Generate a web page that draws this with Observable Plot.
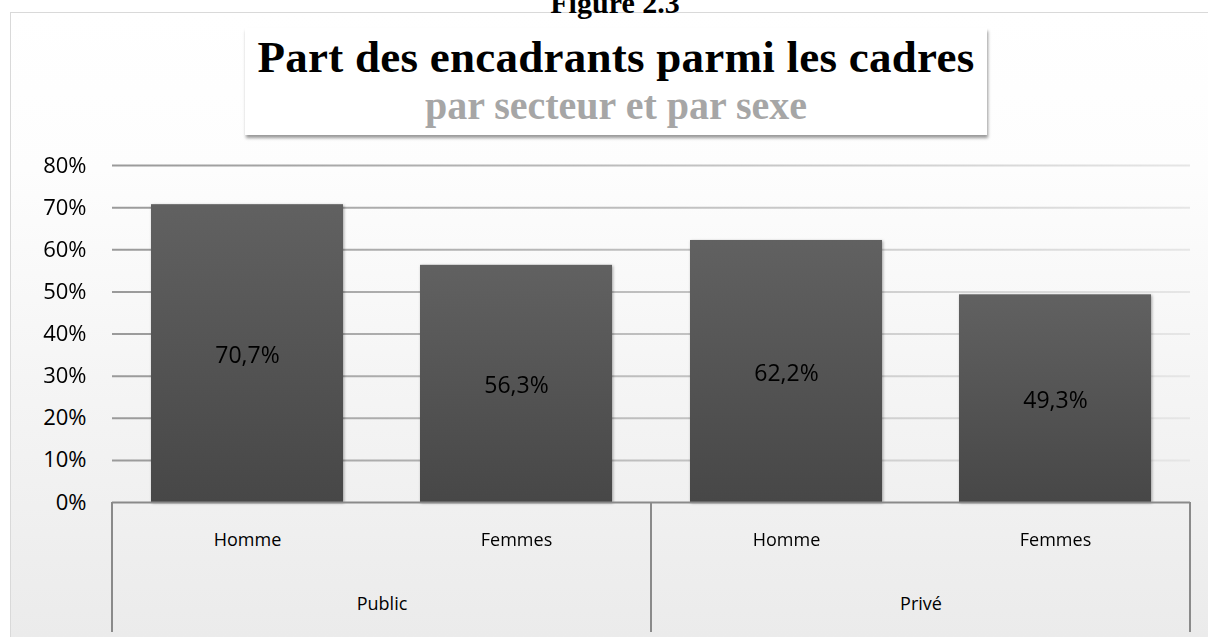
<!DOCTYPE html>
<html>
<head>
<meta charset="utf-8">
<script src="https://cdn.jsdelivr.net/npm/d3@7"></script>
<script src="https://cdn.jsdelivr.net/npm/@observablehq/plot@0.6"></script>
<style>
  body { margin: 0; background: #fff; }
  #wrap { position: relative; width: 1208px; height: 637px; overflow: hidden; background: #fff; }
  #frame { position: absolute; left: 10px; top: 12px; width: 1198px; height: 625px; box-sizing: border-box;
           border-left: 1px solid #d9d9d9; border-top: 1px solid #d9d9d9;
           background: linear-gradient(#ffffff, #fdfdfd 25%, #ebebeb); }
  #fig { position: absolute; left: 0; top: -12px; width: 1230px; text-align: center;
         font: bold 30px/30px "Liberation Serif", serif; color: #000; }
  #titlebox { position: absolute; left: 245px; top: 28px; width: 742px; height: 107px; background: #fff;
              box-shadow: 1px 3px 3px rgba(0,0,0,0.4); }
  #title { position: absolute; left: 0; top: 7px; width: 100%; text-align: center;
           font: bold 45px/45px "Liberation Serif", serif; letter-spacing: 0.25px; color: #000; white-space: nowrap; }
  #subtitle { position: absolute; left: 0; top: 58px; width: 100%; text-align: center;
              font: bold 40px/40px "Liberation Serif", serif; color: #a6a6a6; white-space: nowrap; }
  #chart { position: absolute; left: 0; top: 0; }
</style>
</head>
<body>
<div id="wrap">
  <div id="frame"></div>
  <div id="fig">Figure 2.3</div>
  <div id="chart"></div>
  <div id="titlebox">
    <div id="title">Part des encadrants parmi les cadres</div>
    <div id="subtitle">par secteur et par sexe</div>
  </div>
</div>
<script>
// ---- data ----
const sectors = ["Public", "Privé"];
const sexes = ["Homme", "Femmes"];
const values = [0.707, 0.563, 0.622, 0.493];
const valueLabels = ["70,7%", "56,3%", "62,2%", "49,3%"];
const yTicks = [0, 0.1, 0.2, 0.3, 0.4, 0.5, 0.6, 0.7, 0.8];
const yTickLabels = ["0%", "10%", "20%", "30%", "40%", "50%", "60%", "70%", "80%"];

const data = values.map((v, i) => ({
  sector: sectors[Math.floor(i / 2)],
  sex: sexes[i % 2],
  value: v,
  label: valueLabels[i]
}));
const grid = sectors.flatMap(s => yTicks.filter(t => t > 0).map(t => ({sector: s, v: t})));

const plot = Plot.plot({
  width: 1208,
  height: 637,
  marginLeft: 111,
  marginRight: 18,
  marginTop: 165,
  marginBottom: 135,
  style: {background: "transparent", overflow: "visible", fontFamily: "'Open Sans', sans-serif", color: "#000"},
  fx: {domain: sectors, padding: 0},
  x: {domain: sexes, paddingInner: 0.285, paddingOuter: 0.1425},
  y: {domain: [0, 0.8]},
  marks: [
    Plot.ruleY(grid.filter(d => d.sector === sectors[0]), {fx: "sector", y: "v", stroke: "url(#gridA)", strokeWidth: 2}),
    Plot.ruleY(grid.filter(d => d.sector === sectors[1]), {fx: "sector", y: "v", stroke: "url(#gridB)", strokeWidth: 2}),
    Plot.barY(data, {fx: "sector", x: "sex", y: "value", fill: "url(#barGrad)"}),
    Plot.text(data, {fx: "sector", x: "sex", y: d => d.value / 2, text: "label", fontSize: 23, fill: "#000", dy: 2}),
    Plot.ruleY([0], {stroke: "#8a8a8a", strokeWidth: 2}),
    Plot.axisY({ticks: yTicks, tickFormat: d => yTickLabels[yTicks.indexOf(d)], tickSize: 0, tickPadding: 26,
                fontSize: 22, fill: "#000", label: null}),
    Plot.axisX({tickSize: 0, tickPadding: 31, fontSize: 18, fill: "#000", label: null}),
    Plot.axisFx({anchor: "bottom", tickSize: 0, tickPadding: 95, fontSize: 18, fill: "#000", label: null})
  ]
});

document.getElementById("chart").appendChild(plot);

// gradients and decorations
const svg = d3.select(plot);
const defs = svg.insert("defs", ":first-child");
const fx = plot.scale("fx");
const y = plot.scale("y");
const x0 = 111, x1 = 111 + fx.bandwidth;
function lin(id, a, b) {
  const g = defs.append("linearGradient").attr("id", id).attr("gradientUnits", "userSpaceOnUse")
    .attr("x1", x0).attr("x2", x1).attr("y1", 0).attr("y2", 0);
  g.append("stop").attr("offset", 0).attr("stop-color", a);
  g.append("stop").attr("offset", 1).attr("stop-color", b);
}
lin("gridA", "#9a9a9a", "#bfbfbf");
lin("gridB", "#bfbfbf", "#e6e6e6");
const bg = defs.append("linearGradient").attr("id", "barGrad").attr("x1", 0).attr("x2", 0).attr("y1", 0).attr("y2", 1);
bg.append("stop").attr("offset", 0).attr("stop-color", "#616161");
bg.append("stop").attr("offset", 1).attr("stop-color", "#474747");

svg.selectAll('g[aria-label="bar"]').style("filter", "drop-shadow(1px 1px 1.5px rgba(0,0,0,0.35))");

// separators of the two-level category axis
const edges = [fx.apply(sectors[0]), fx.apply(sectors[1]), fx.apply(sectors[1]) + fx.bandwidth];
const yBase = y.apply(0);
svg.append("g").selectAll("line").data(edges).join("line")
  .attr("x1", d => d).attr("x2", d => d)
  .attr("y1", yBase).attr("y2", yBase + 130)
  .attr("stroke", "#8a8a8a").attr("stroke-width", 2);
</script>
</body>
</html>
